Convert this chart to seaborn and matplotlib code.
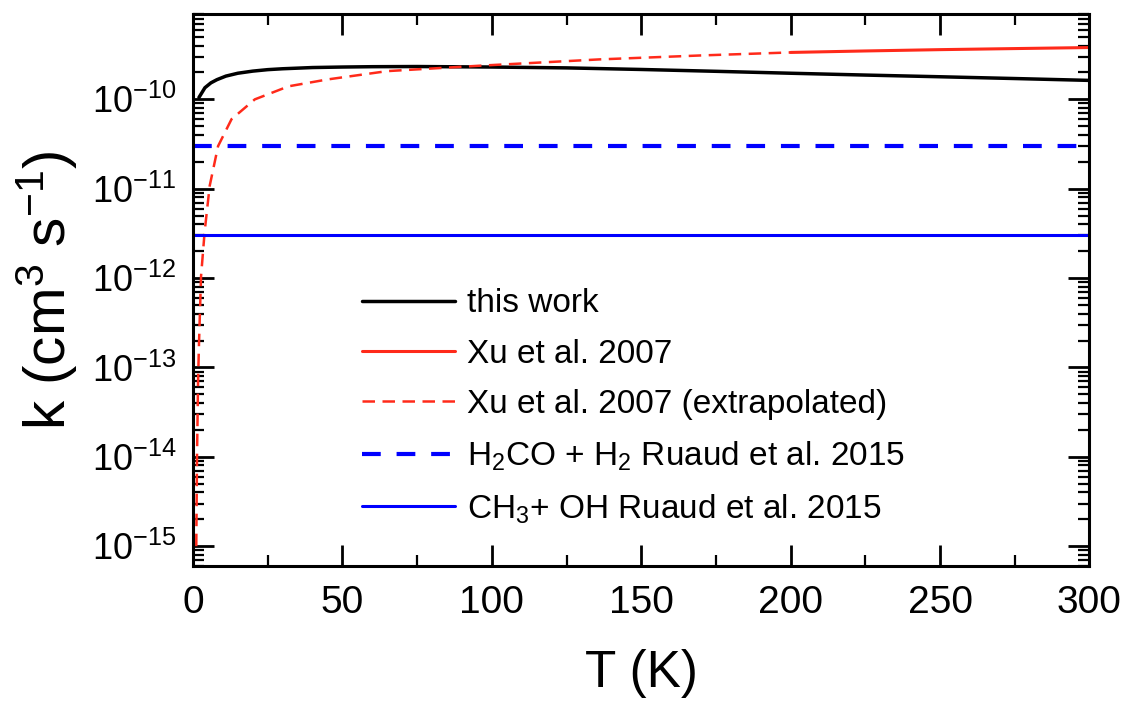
import numpy as np
import pandas as pd
import seaborn as sns
import matplotlib.pyplot as plt
from matplotlib.ticker import MultipleLocator, LogLocator

# rate coefficients (cm^3 s^-1) vs T (K)
this_work_T = [2, 4, 6, 8, 11, 15, 20, 25, 30, 40, 50, 60, 75, 100, 125, 150, 175, 200, 225, 250, 275, 300]
this_work_k = [1.05e-10, 1.35e-10, 1.53e-10, 1.66e-10, 1.82e-10, 1.96e-10, 2.07e-10, 2.15e-10, 2.20e-10,
               2.27e-10, 2.30e-10, 2.32e-10, 2.33e-10, 2.30e-10, 2.25e-10, 2.16e-10, 2.06e-10, 1.96e-10,
               1.87e-10, 1.79e-10, 1.71e-10, 1.63e-10]

xu_ext_T = [1.1, 1.35, 1.7, 2.0, 2.7, 3.9, 5.6, 8.4, 12.9, 20.7, 32, 45, 65, 96, 136, 170, 200]
xu_ext_k = [1e-15, 1e-14, 7e-14, 1.8e-13, 1.05e-12, 3.3e-12, 1.08e-11, 3.0e-11, 6.0e-11, 1.0e-10,
            1.4e-10, 1.67e-10, 2.07e-10, 2.38e-10, 2.8e-10, 3.1e-10, 3.35e-10]

xu_T = [200, 225, 250, 275, 300]
xu_k = [3.35e-10, 3.48e-10, 3.6e-10, 3.7e-10, 3.8e-10]

ruaud_T = [0, 300]
h2co_k = [3e-11, 3e-11]
ch3oh_k = [3e-12, 3e-12]

y_major = [1e-15, 1e-14, 1e-13, 1e-12, 1e-11, 1e-10]

sns.set_theme(style='ticks')
plt.rcParams['font.family'] = ['Liberation Sans', 'DejaVu Sans']
plt.rcParams['mathtext.default'] = 'regular'
plt.rcParams['axes.unicode_minus'] = False
plt.rcParams['text.color'] = 'black'
plt.rcParams['axes.labelcolor'] = 'black'

fig, ax = plt.subplots(figsize=(11.22, 7.04), dpi=100)
fig.subplots_adjust(left=0.172, right=0.971, top=0.980, bottom=0.196)

red = '#ff2a1a'
blue = '#0000ff'

sns.lineplot(x=this_work_T, y=this_work_k, ax=ax, color='black', lw=2.5, label='this work')
sns.lineplot(x=xu_T, y=xu_k, ax=ax, color=red, lw=2.2, label='Xu et al. 2007')
sns.lineplot(x=xu_ext_T, y=xu_ext_k, ax=ax, color=red, lw=1.8, label='Xu et al. 2007 (extrapolated)')
ax.lines[-1].set_dashes((5, 3))
sns.lineplot(x=ruaud_T, y=h2co_k, ax=ax, color=blue, lw=3, label='H$_2$CO + H$_2$ Ruaud et al. 2015')
ax.lines[-1].set_dashes((4.5, 3.8))
sns.lineplot(x=ruaud_T, y=ch3oh_k, ax=ax, color=blue, lw=2.2, label='CH$_3$+ OH Ruaud et al. 2015')

ax.set_yscale('log')
ax.set_xlim(0, 300)
ax.set_ylim(6e-16, 9e-10)
ax.xaxis.set_major_locator(MultipleLocator(50))
ax.xaxis.set_minor_locator(MultipleLocator(25))
ax.set_yticks(y_major)
ax.yaxis.set_minor_locator(LogLocator(base=10, subs=np.arange(2, 10), numticks=20))

for s in ax.spines.values():
    s.set_linewidth(2.2)
    s.set_color('black')
ax.tick_params(which='both', direction='in', top=True, right=True, colors='black', labelcolor='black')
ax.tick_params(which='major', length=15, width=2)
ax.tick_params(which='minor', length=8, width=1.6)
ax.tick_params(axis='x', which='major', pad=14, labelsize=28)
ax.tick_params(axis='y', which='major', pad=12, labelsize=26)

ax.set_xlabel('T (K)', fontsize=37, labelpad=20)
ax.set_ylabel('k (cm$^3$ s$^{-1}$)', fontsize=42, labelpad=8)

ax.legend(loc='upper left', bbox_to_anchor=(0.188, 0.503), frameon=False, fontsize=24,
          handlelength=2.8, handletextpad=0.35, borderpad=0, borderaxespad=0, labelspacing=0.58)

plt.savefig('out.png', dpi=100)
